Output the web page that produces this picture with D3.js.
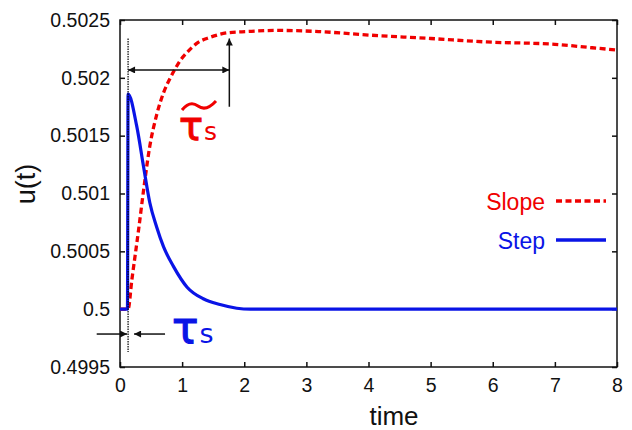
<!DOCTYPE html>
<html lang="en">
<head>
<meta charset="UTF-8">
<title>u(t) step vs slope</title>
<script src="https://d3js.org/d3.v7.min.js"></script>
<style>
    body { margin: 0; background: #fff; }
    svg { font-family: "Liberation Sans", Arial, sans-serif; }
    .tick text { font-size: 19.5px; fill: #111; }
    .tick line { stroke: #111; stroke-width: 1.5px; }
    .domain { display: none; }
</style>
</head>
<body>
<svg id="chart"></svg>
<script>
// Step response (blue, solid)
const stepTime = [0, 0.12, 0.13, 0.27, 0.38, 0.48, 0.59, 0.70, 0.86, 1.08, 1.34, 1.61, 1.88, 2.1, 8];
const stepU    = [0.5, 0.5, 0.50186, 0.50158, 0.50123, 0.50092, 0.50071, 0.50054, 0.50037, 0.50019, 0.50009, 0.50004, 0.500008, 0.5, 0.5];

// Slope response (red, dashed)
const slopeTime = [0, 0.13, 0.19, 0.30, 0.38, 0.48, 0.59, 0.70, 0.81, 0.89, 0.97, 1.08, 1.24, 1.45, 1.74, 2.04, 2.5, 3.2, 4.0, 5.0, 5.9, 7.0, 7.6, 8.0];
const slopeU    = [0.5, 0.5, 0.50025, 0.50069, 0.50103, 0.50141, 0.50168, 0.50187, 0.50200, 0.50208, 0.50215, 0.50222, 0.50230, 0.50235, 0.50239, 0.50240, 0.50241, 0.50240, 0.50237, 0.50234, 0.50231, 0.50229, 0.50226, 0.50224];

const xTicks = [0, 1, 2, 3, 4, 5, 6, 7, 8];
const yTicks = [0.4995, 0.5, 0.5005, 0.501, 0.5015, 0.502, 0.5025];
const yTickLabels = ["0.4995", "0.5", "0.5005", "0.501", "0.5015", "0.502", "0.5025"];

// annotation times
const tauS = 0.13;
const tauSlope = 1.76;

const width = 632, height = 430;
const margin = {top: 20, right: 15, bottom: 63, left: 120};

const svg = d3.select("#chart").attr("width", width).attr("height", height);

const x = d3.scaleLinear().domain([0, 8]).range([margin.left, width - margin.right]);
const y = d3.scaleLinear().domain([0.4995, 0.5025]).range([height - margin.bottom, margin.top]);

const red = "#f00000", blue = "#0a14e6";

// axes (ticks point inward, mirrored on top / right)
svg.append("g")
    .attr("transform", `translate(0,${y.range()[0]})`)
    .call(d3.axisBottom(x).tickValues(xTicks).tickSize(-5).tickSizeOuter(0).tickPadding(11));
svg.append("g")
    .attr("transform", `translate(0,${y.range()[1]})`)
    .call(d3.axisTop(x).tickValues(xTicks).tickSize(-5).tickSizeOuter(0).tickFormat(""));
svg.append("g")
    .attr("transform", `translate(${x.range()[0]},0)`)
    .call(d3.axisLeft(y).tickValues(yTicks).tickSize(-5).tickSizeOuter(0).tickPadding(10)
        .tickFormat((d, i) => yTickLabels[i]));
svg.append("g")
    .attr("transform", `translate(${x.range()[1]},0)`)
    .call(d3.axisRight(y).tickValues(yTicks).tickSize(-5).tickSizeOuter(0).tickFormat(""));

svg.append("rect")
    .attr("x", x.range()[0]).attr("y", y.range()[1])
    .attr("width", x.range()[1] - x.range()[0])
    .attr("height", y.range()[0] - y.range()[1])
    .attr("fill", "none").attr("stroke", "#111").attr("stroke-width", 1.5);

// curves
const line = d3.line().x(d => x(d[0])).y(d => y(d[1])).curve(d3.curveMonotoneX);

svg.append("path")
    .datum(d3.zip(slopeTime, slopeU))
    .attr("d", line)
    .attr("fill", "none").attr("stroke", red)
    .attr("stroke-width", 3.3).attr("stroke-dasharray", "6,3.5");

svg.append("path")
    .datum(d3.zip(stepTime, stepU))
    .attr("d", line)
    .attr("fill", "none").attr("stroke", blue)
    .attr("stroke-width", 3.2).attr("stroke-linejoin", "round");

// arrow marker
const defs = svg.append("defs");
defs.append("marker")
    .attr("id", "arrow")
    .attr("viewBox", "0 0 10 10")
    .attr("refX", 10).attr("refY", 5)
    .attr("markerWidth", 9).attr("markerHeight", 7)
    .attr("markerUnits", "userSpaceOnUse")
    .attr("orient", "auto-start-reverse")
    .append("path").attr("d", "M0,0L10,5L0,10z").attr("fill", "#111");

// dotted vertical at tau_s
svg.append("line")
    .attr("x1", x(tauS)).attr("x2", x(tauS))
    .attr("y1", y(0.50234)).attr("y2", y(0.49963))
    .attr("stroke", "#000").attr("stroke-width", 1.2).attr("stroke-dasharray", "1.5,1");

// upper double arrow (tau_s -> tilde tau_s)
svg.append("line")
    .attr("x1", x(tauS)).attr("x2", x(tauSlope))
    .attr("y1", y(0.502068)).attr("y2", y(0.502068))
    .attr("stroke", "#111").attr("stroke-width", 1.5)
    .attr("marker-start", "url(#arrow)").attr("marker-end", "url(#arrow)");
svg.append("line")
    .attr("x1", x(tauSlope)).attr("x2", x(tauSlope))
    .attr("y1", y(0.50175)).attr("y2", y(0.50234))
    .attr("stroke", "#111").attr("stroke-width", 1.5)
    .attr("marker-end", "url(#arrow)");

// lower arrows pointing at tau_s
const yLow = y(0.499785);
svg.append("line")
    .attr("x1", x(-0.375)).attr("x2", x(tauS) - 1)
    .attr("y1", yLow).attr("y2", yLow)
    .attr("stroke", "#111").attr("stroke-width", 1.5)
    .attr("marker-end", "url(#arrow)");
svg.append("line")
    .attr("x1", x(0.725)).attr("x2", x(tauS) + 6)
    .attr("y1", yLow).attr("y2", yLow)
    .attr("stroke", "#111").attr("stroke-width", 1.5)
    .attr("marker-end", "url(#arrow)");

// tau labels
const redTau = svg.append("text").attr("x", 179).attr("y", 140).attr("fill", red)
    .attr("font-family", "DejaVu Sans");
redTau.append("tspan").attr("font-size", 40).attr("stroke", red).attr("stroke-width", 1).text("τ");
redTau.append("tspan").attr("font-size", 25).attr("dx", 1).text("s");
svg.append("path")
    .attr("d", "M182,110 Q190,100 198,106 T216,101")
    .attr("fill", "none").attr("stroke", red).attr("stroke-width", 3);

const blueTau = svg.append("text").attr("x", 172).attr("y", 343).attr("fill", blue)
    .attr("font-family", "DejaVu Sans");
blueTau.append("tspan").attr("font-size", 44).attr("stroke", blue).attr("stroke-width", 1.1).text("τ");
blueTau.append("tspan").attr("font-size", 27).attr("dx", 1).text("s");

// legend
const legend = [
    {name: "Slope", color: red, dash: "6,3.5", y: 201},
    {name: "Step", color: blue, dash: null, y: 240}
];
legend.forEach(d => {
    svg.append("text")
        .attr("x", 545).attr("y", d.y + 9)
        .attr("text-anchor", "end")
        .attr("font-family", "'Liberation Sans Narrow', 'Liberation Sans', Arial, sans-serif")
        .attr("font-size", 23).attr("fill", d.color)
        .text(d.name);
    svg.append("line")
        .attr("x1", 556).attr("x2", 606)
        .attr("y1", d.y).attr("y2", d.y)
        .attr("stroke", d.color).attr("stroke-width", 3.3)
        .attr("stroke-dasharray", d.dash);
});

// axis titles
svg.append("text")
    .attr("x", 394).attr("y", 425)
    .attr("text-anchor", "middle")
    .attr("font-size", 26).attr("fill", "#111")
    .text("time");
svg.append("text")
    .attr("transform", "translate(35,184) rotate(-90)")
    .attr("text-anchor", "middle")
    .attr("font-size", 27).attr("fill", "#111")
    .text("u(t)");
</script>
</body>
</html>
